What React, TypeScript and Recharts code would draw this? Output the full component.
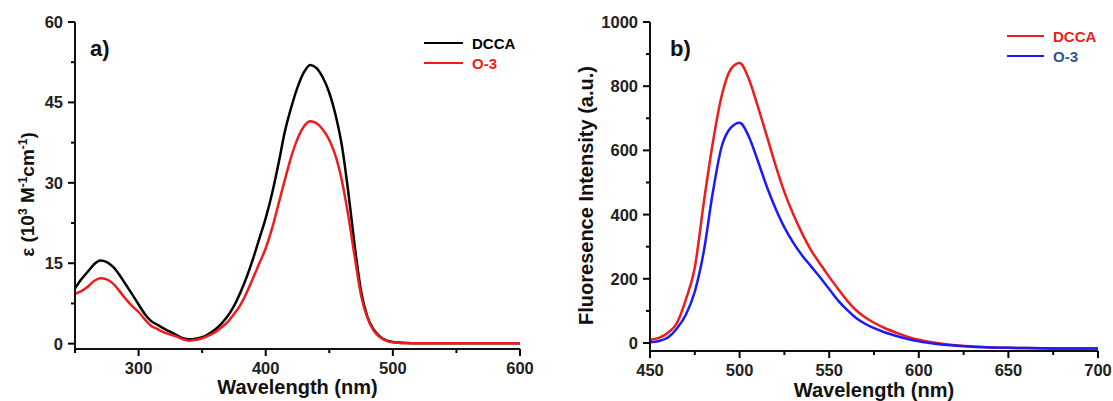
import React from 'react';
import { LineChart, Line, XAxis, YAxis, Label } from 'recharts';

// (a) absorption spectra
const absWavelengths = [
  250, 255, 260, 265, 270, 275, 280, 285, 290, 295, 300, 305, 310, 315, 320, 325, 330, 335, 340, 345,
  350, 355, 360, 365, 370, 375, 380, 385, 390, 395, 400, 405, 410, 415, 420, 425, 430, 435, 440, 445,
  450, 455, 460, 465, 470, 475, 480, 485, 490, 495, 500, 510, 520, 540, 560, 580, 600,
];
const absDCCA = [
  10.3, 12.0, 13.4, 14.8, 15.5, 15.2, 14.3, 12.8, 11.0, 9.2, 7.3, 5.5, 4.2, 3.5, 2.8, 2.2, 1.6, 1.0, 0.8, 0.9,
  1.2, 1.8, 2.6, 3.7, 5.1, 7.0, 9.5, 12.4, 15.8, 19.6, 23.4, 28.0, 33.5, 39.5, 44.0, 47.8, 50.6, 52.0, 51.4, 49.6,
  46.8, 42.6, 36.8, 28.2, 18.2, 9.8, 5.0, 2.6, 1.3, 0.6, 0.3, 0.1, 0.05, 0.05, 0.05, 0.05, 0.05,
];
const absO3 = [
  9.3, 9.8, 10.6, 11.7, 12.2, 12.0, 11.2, 9.8, 8.3, 7.0, 5.9, 4.5, 3.3, 2.7, 2.1, 1.7, 1.3, 0.8, 0.55, 0.7,
  1.0, 1.5, 2.1, 3.0, 4.0, 5.5, 7.2, 9.5, 12.2, 15.0, 17.8, 21.5, 26.0, 30.5, 34.8, 38.2, 40.5, 41.5, 41.1, 39.9,
  38.0, 35.0, 30.3, 23.8, 16.2, 9.0, 4.8, 2.4, 1.2, 0.5, 0.25, 0.1, 0.05, 0.05, 0.05, 0.05, 0.05,
];
const absXMajor = [300, 400, 500, 600];
const absXMinor = [250, 350, 450, 550];
const absYMajor = [0, 15, 30, 45, 60];
const absYMinor = [7.5, 22.5, 37.5, 52.5];

// (b) fluorescence spectra
const flWavelengths = [
  450, 455, 460, 465, 470, 475, 480, 485, 490, 495, 500, 505, 510, 515, 520, 525, 530, 535, 540, 545,
  550, 555, 560, 565, 570, 575, 580, 590, 600, 610, 620, 630, 640, 650, 660, 680, 700,
];
const flDCCA = [
  10, 16, 32, 62, 135, 235, 437, 622, 770, 852, 872, 825, 740, 648, 555, 470, 400, 340, 288, 246,
  206, 168, 132, 102, 80, 63, 49, 27, 10, 0, -7, -11, -14, -15, -16, -17, -17,
];
const flO3 = [
  2, 6, 17, 45, 88, 160, 285, 467, 612, 670, 686, 645, 570, 490, 420, 360, 312, 272, 238, 204,
  168, 132, 103, 78, 60, 46, 35, 18, 5, -3, -8, -12, -14, -15, -16, -17, -17,
];
const flXMajor = [450, 500, 550, 600, 650, 700];
const flXMinor = [475, 525, 575, 625, 675];
const flYMajor = [0, 200, 400, 600, 800, 1000];
const flYMinor = [100, 300, 500, 700, 900];

const absData = absWavelengths.map((w, i) => ({ w, dcca: absDCCA[i], o3: absO3[i] }));
const flData = flWavelengths.map((w, i) => ({ w, dcca: flDCCA[i], o3: flO3[i] }));

const FONT = '"Liberation Sans", Arial, sans-serif';
const AXIS = '#111';
const RED = '#ee1c1c';
const BLUE = '#1a1aff';

const axisLine = { stroke: AXIS, strokeWidth: 2 };

// tick marks drawn by hand so majors and minors get different lengths
const BottomTick = (props: any) => {
  const { x, y, payload, major } = props;
  return (
    <g>
      <path d={`M${x},${y}V${y + (major ? 7 : 4)}`} stroke="#000" strokeWidth={2} fill="none" />
      {major && (
        <text x={x} y={y + 25} textAnchor="middle" fontFamily={FONT} fontWeight="bold" fontSize={16.5} fill="#222">
          {payload.value}
        </text>
      )}
    </g>
  );
};

const LeftTick = (props: any) => {
  const { x, y, payload, major } = props;
  return (
    <g>
      <path d={`M${x},${y}H${x - (major ? 7 : 4)}`} stroke="#000" strokeWidth={2} fill="none" />
      {major && (
        <text x={x - 12} y={y + 6} textAnchor="end" fontFamily={FONT} fontWeight="bold" fontSize={16.5} fill="#222">
          {payload.value}
        </text>
      )}
    </g>
  );
};

const XTitle = ({ viewBox, dy }: any) => (
  <text
    x={viewBox.x + viewBox.width / 2}
    y={viewBox.y + dy}
    textAnchor="middle"
    fontFamily={FONT}
    fontWeight="bold"
    fontSize={20}
    fill="#111"
  >
    Wavelength (nm)
  </text>
);

const EpsTitle = ({ viewBox }: any) => {
  const cx = viewBox.x + 34;
  const cy = viewBox.y + viewBox.height / 2 + 9;
  return (
    <text
      transform={`translate(${cx},${cy}) rotate(-90)`}
      textAnchor="middle"
      fontFamily={FONT}
      fontWeight="bold"
      fontSize={19}
      fill="#111"
    >
      ε (10<tspan dy={-7} fontSize={12}>3</tspan>
      <tspan dy={7}> M</tspan>
      <tspan dy={-7} fontSize={12}>-1</tspan>
      <tspan dy={7}>cm</tspan>
      <tspan dy={-7} fontSize={12}>-1</tspan>
      <tspan dy={7}>)</tspan>
    </text>
  );
};

const FlTitle = ({ viewBox }: any) => {
  const cx = viewBox.x + 33;
  const cy = viewBox.y + viewBox.height / 2 + 9;
  return (
    <text
      transform={`translate(${cx},${cy}) rotate(-90)`}
      textAnchor="middle"
      fontFamily={FONT}
      fontWeight="bold"
      fontSize={20}
      fill="#111"
    >
      Fluoresence Intensity (a.u.)
    </text>
  );
};

const legendA = [
  { name: 'DCCA', stroke: '#000', text: '#000' },
  { name: 'O-3', stroke: RED, text: RED },
];
const legendB = [
  { name: 'DCCA', stroke: RED, text: RED },
  { name: 'O-3', stroke: BLUE, text: '#2f5597' },
];

const LegendBox = ({ items, left, top, lineW }: any) => (
  <div style={{ position: 'absolute', left, top }}>
    {items.map((it: any) => (
      <div key={it.name} style={{ display: 'flex', alignItems: 'center', height: 20 }}>
        <div style={{ width: lineW, height: 2.5, background: it.stroke, marginRight: 9 }} />
        <span style={{ fontFamily: FONT, fontWeight: 'bold', fontSize: 15, color: it.text }}>{it.name}</span>
      </div>
    ))}
  </div>
);

const PanelTag = ({ text, left, top }: any) => (
  <div style={{ position: 'absolute', left, top, fontFamily: FONT, fontWeight: 'bold', fontSize: 22, color: '#111' }}>
    {text}
  </div>
);

const isMajor = (majors: number[]) => (v: number) => majors.includes(v);

export default function App() {
  const absXIsMajor = isMajor(absXMajor);
  const absYIsMajor = isMajor(absYMajor);
  const flXIsMajor = isMajor(flXMajor);
  const flYIsMajor = isMajor(flYMajor);
  return (
    <div style={{ position: 'absolute', left: 0, top: 0, width: 1113, height: 401, background: '#fff' }}>
      <div style={{ position: 'absolute', left: 0, top: 0 }}>
        <LineChart width={545} height={401} data={absData} margin={{ top: 22, right: 25, left: 0, bottom: 0 }}>
          <XAxis
            dataKey="w"
            type="number"
            domain={[250, 600]}
            ticks={[...absXMinor, ...absXMajor].sort((a, b) => a - b)}
            interval={0}
            height={52}
            tickSize={0}
            tickMargin={0}
            tickLine={false}
            axisLine={axisLine}
            tick={(p: any) => <BottomTick {...p} major={absXIsMajor(p.payload.value)} />}
          >
            <Label content={(p: any) => <XTitle {...p} dy={45} />} />
          </XAxis>
          <XAxis xAxisId="top" dataKey="w" type="number" domain={[250, 600]} orientation="top" height={0} tick={false} tickLine={false} axisLine={axisLine} />
          <YAxis
            type="number"
            domain={[-1, 60]}
            ticks={[...absYMinor, ...absYMajor].sort((a, b) => a - b)}
            interval={0}
            width={75}
            allowDataOverflow
            tickSize={0}
            tickMargin={0}
            tickLine={false}
            axisLine={axisLine}
            tick={(p: any) => <LeftTick {...p} major={absYIsMajor(p.payload.value)} />}
          >
            <Label content={(p: any) => <EpsTitle {...p} />} />
          </YAxis>
          <YAxis yAxisId="r" type="number" domain={[-1, 60]} orientation="right" width={0} tick={false} tickLine={false} axisLine={axisLine} />
          <Line type="monotone" dataKey="dcca" stroke="#000" strokeWidth={2.5} dot={false} isAnimationActive={false} />
          <Line type="monotone" dataKey="o3" stroke={RED} strokeWidth={2.5} dot={false} isAnimationActive={false} />
        </LineChart>
      </div>
      <div style={{ position: 'absolute', left: 560, top: 0 }}>
        <LineChart width={553} height={401} data={flData} margin={{ top: 22, right: 15, left: 0, bottom: 0 }}>
          <XAxis
            dataKey="w"
            type="number"
            domain={[450, 700]}
            ticks={[...flXMinor, ...flXMajor].sort((a, b) => a - b)}
            interval={0}
            height={50}
            tickSize={0}
            tickMargin={0}
            tickLine={false}
            axisLine={axisLine}
            tick={(p: any) => <BottomTick {...p} major={flXIsMajor(p.payload.value)} />}
          >
            <Label content={(p: any) => <XTitle {...p} dy={46} />} />
          </XAxis>
          <XAxis xAxisId="top" dataKey="w" type="number" domain={[450, 700]} orientation="top" height={0} tick={false} tickLine={false} axisLine={axisLine} />
          <YAxis
            type="number"
            domain={[-25, 1000]}
            ticks={[...flYMinor, ...flYMajor].sort((a, b) => a - b)}
            interval={0}
            width={90}
            allowDataOverflow
            tickSize={0}
            tickMargin={0}
            tickLine={false}
            axisLine={axisLine}
            tick={(p: any) => <LeftTick {...p} major={flYIsMajor(p.payload.value)} />}
          >
            <Label content={(p: any) => <FlTitle {...p} />} />
          </YAxis>
          <YAxis yAxisId="r" type="number" domain={[-25, 1000]} orientation="right" width={0} tick={false} tickLine={false} axisLine={axisLine} />
          <Line type="monotone" dataKey="dcca" stroke={RED} strokeWidth={2.5} dot={false} isAnimationActive={false} />
          <Line type="monotone" dataKey="o3" stroke={BLUE} strokeWidth={2.5} dot={false} isAnimationActive={false} />
        </LineChart>
      </div>
      <LegendBox items={legendA} left={424} top={33} lineW={39} />
      <LegendBox items={legendB} left={1007} top={26} lineW={37} />
      <PanelTag text="a)" left={90} top={36} />
      <PanelTag text="b)" left={670} top={36} />
    </div>
  );
}
